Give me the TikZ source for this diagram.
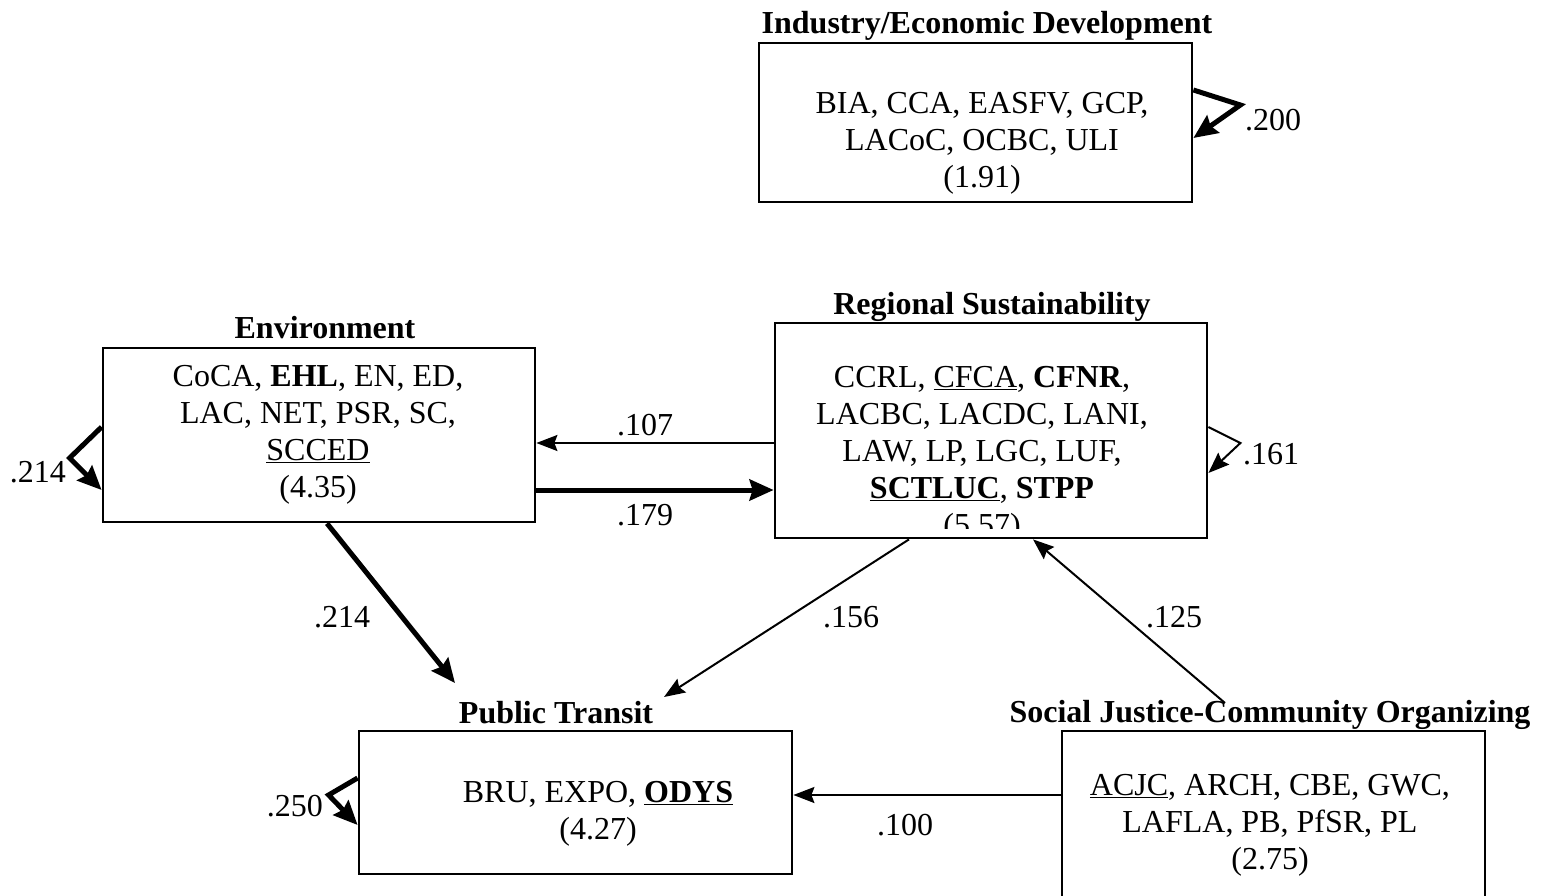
\documentclass[tikz,border=0pt]{standalone}
\usepackage{fontspec}
\setmainfont{Liberation Serif}
\usetikzlibrary{arrows.meta}

\tikzset{
	box/.style={draw, line width=2.8pt, inner sep=0pt},
	grouptitle/.style={font=\fontsize{32}{37}\selectfont\bfseries, anchor=base, inner sep=0pt},
	members/.style={font=\fontsize{32}{37}\selectfont, anchor=base, inner sep=0pt},
	lbl/.style={font=\fontsize{32}{37}\selectfont, inner sep=0pt},
	thinarr/.style={line width=2pt, -{Stealth[length=21pt,width=16pt,inset=3pt]}},
	thickarr/.style={line width=5pt, -{Stealth[length=24pt,width=21pt,inset=3pt]}}
}

\begin{document}
\begin{tikzpicture}[x=1pt, y=-1pt]
	
	\useasboundingbox (0, 0) rectangle (1543, 896);
	
	% boxes
	\node[box, minimum width=433pt, minimum height=159pt] at (975.5, 122.5) (ind) {};
	\node[box, minimum width=432pt, minimum height=174pt] at (319, 435) (env) {};
	\node[box, minimum width=432pt, minimum height=215pt] at (991, 430.5) (reg) {};
	\node[box, minimum width=433pt, minimum height=143pt] at (575.5, 802.5) (pt) {};
	\node[box, minimum width=423pt, minimum height=199pt] at (1273.5, 830.5) (sj) {};
	
	% titles
	\node[grouptitle] at (987, 34) (indtitle) {Industry/Economic Development};
	\node[grouptitle] at (325, 338) (envtitle) {Environment};
	\node[grouptitle] at (992, 314) (regtitle) {Regional Sustainability};
	\node[grouptitle] at (556, 723) (pttitle) {Public Transit};
	\node[grouptitle] at (1270, 722) (sjtitle) {Social Justice-Community Organizing};
	
	% members
	\node[members] at (982, 114) (indtext) {\begin{tabular}[t]{@{}c@{}}BIA, CCA, EASFV, GCP,\\ LACoC, OCBC, ULI\\ (1.91)\end{tabular}};
	\node[members] at (318, 386) (envtext) {\begin{tabular}[t]{@{}c@{}}CoCA, \textbf{EHL}, EN, ED,\\ LAC, NET, PSR, SC,\\ \underline{SCCED}\\ (4.35)\end{tabular}};
	\begin{scope}
		\clip (775, 323) rectangle (1207, 528);
		\node[members] at (982, 387) (regtext) {\begin{tabular}[t]{@{}c@{}}CCRL, \underline{CFCA}, \textbf{CFNR},\\ LACBC, LACDC, LANI,\\ LAW, LP, LGC, LUF,\\ \underline{\textbf{SCTLUC}}, \textbf{STPP}\\ (5.57)\end{tabular}};
	\end{scope}
	\node[members] at (598, 802) (pttext) {\begin{tabular}[t]{@{}c@{}}BRU, EXPO, \underline{\textbf{ODYS}}\\ (4.27)\end{tabular}};
	\node[members] at (1270, 795) (sjtext) {\begin{tabular}[t]{@{}c@{}}\underline{ACJC}, ARCH, CBE, GWC,\\ LAFLA, PB, PfSR, PL\\ (2.75)\end{tabular}};
	
	% free ends
	\coordinate (ptin1) at (455, 683);
	\coordinate (ptin2) at (664, 697);
	\coordinate (sjout) at (1225, 703);
	
	% paths
	\draw[thinarr] ([yshift=-12.5pt]reg.west) to (env.east |- 0, 443);
	\draw[thickarr] (env.east |- 0, 490) to (reg.west |- 0, 490);
	\draw[thickarr] ([xshift=8pt]env.south) to (ptin1);
	\draw[thinarr] ([xshift=-82pt]reg.south) to (ptin2);
	\draw[thinarr] (sjout) to ([xshift=42pt]reg.south);
	\draw[thinarr] ([yshift=35.5pt]sj.west) to (pt.east |- 0, 795);
	
	% self loops
	\draw[thickarr, miter limit=20] ([yshift=32.5pt]ind.east) -- ++(47, 15) -- ([yshift=-15.5pt]ind.east);
	\draw[thinarr] ([yshift=3.5pt]reg.east) -- ++(32, 16) -- ([yshift=-42.5pt]reg.east);
	\draw[thickarr, miter limit=20] ([yshift=8pt]env.west) -- ++(-32, 31) -- ([yshift=-55pt]env.west);
	\draw[thickarr, miter limit=20] ([yshift=24.5pt]pt.west) -- ++(-29, 17) -- ([yshift=-22.5pt]pt.west);
	
	% weights
	\node[lbl] at (645, 425) (w107) {.107};
	\node[lbl] at (645, 515) (w179) {.179};
	\node[lbl] at (342, 617) (w214b) {.214};
	\node[lbl] at (851, 617) (w156) {.156};
	\node[lbl] at (1174, 617) (w125) {.125};
	\node[lbl] at (905, 825) (w100) {.100};
	\node[lbl, anchor=west] at (1245, 120) (w200) {.200};
	\node[lbl, anchor=west] at (1243, 454) (w161) {.161};
	\node[lbl, anchor=east] at (66, 472) (w214a) {.214};
	\node[lbl, anchor=east] at (323, 806) (w250) {.250};
	
\end{tikzpicture}
\end{document}
